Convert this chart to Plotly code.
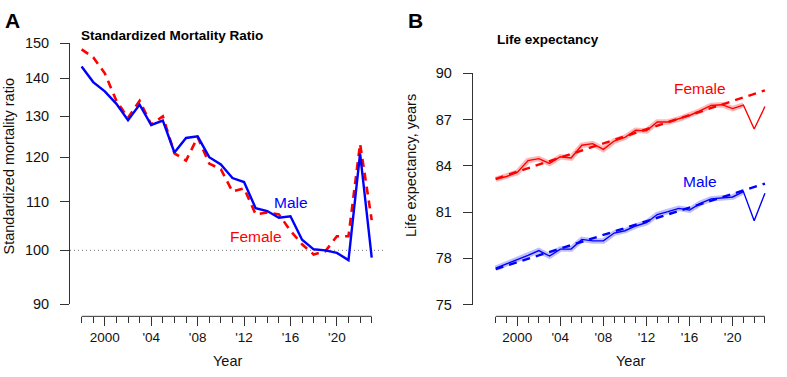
import math
import plotly.graph_objects as go

W, H = 787, 377

years = list(range(1998, 2024))

# Panel A: Standardized mortality ratio
smr_male = [143.3, 139.0, 136.5, 133.2, 129.0, 133.0, 127.8, 128.9, 121.1, 124.6, 125.0, 120.0, 118.3,
            115.2, 114.3, 108.6, 108.0, 106.6, 106.9, 102.1, 100.2, 100.0, 99.5, 98.1, 120.9, 98.6]
smr_female = [148.2, 145.9, 141.4, 134.0, 129.6, 134.0, 127.9, 130.0, 120.9, 119.2, 124.8, 118.5, 117.2,
              112.2, 112.9, 107.3, 107.7, 107.3, 103.9, 101.2, 99.2, 99.8, 102.8, 102.8, 123.2, 106.1]

# Panel B: Life expectancy (observed and expected)
le_female = [83.12, 83.31, 83.57, 84.34, 84.47, 84.16, 84.59, 84.51, 85.34, 85.44, 85.07, 85.61, 85.85,
             86.31, 86.27, 86.85, 86.85, 87.04, 87.27, 87.58, 87.92, 87.97, 87.72, 87.95, 86.39, 87.85]
le_male = [77.36, 77.63, 77.88, 78.19, 78.50, 78.15, 78.60, 78.60, 79.23, 79.13, 79.13, 79.64, 79.79,
           80.10, 80.31, 80.84, 81.03, 81.24, 81.13, 81.57, 81.86, 81.92, 81.98, 82.33, 80.44, 82.23]
exp_female = [83.16, 83.39, 83.62, 83.85, 84.08, 84.31, 84.54, 84.77, 85.00, 85.23, 85.46, 85.69, 85.92,
              86.14, 86.37, 86.60, 86.83, 87.06, 87.29, 87.52, 87.75, 87.98, 88.21, 88.44, 88.67, 88.90]
exp_male = [77.30, 77.52, 77.74, 77.97, 78.19, 78.41, 78.63, 78.85, 79.08, 79.30, 79.52, 79.74, 79.96,
            80.19, 80.41, 80.63, 80.85, 81.07, 81.30, 81.52, 81.74, 81.96, 82.18, 82.41, 82.63, 82.85]
band_years = years[:24]  # uncertainty band drawn through 2021

smr_ticks = [90, 100, 110, 120, 130, 140, 150]
le_ticks = [75, 78, 81, 84, 87, 90]
year_major = [2000, 2004, 2008, 2012, 2016, 2020]
year_labels = ["2000", "'04", "'08", "'12", "'16", "'20"]

RED = "#FF0000"
BLUE = "#0000FF"
AX = "#333333"
FONT = "Liberation Sans, Arial, Helvetica, sans-serif"


def px(x):
    return x / W


def py(y):
    return 1 - y / H


fig = go.Figure()

# ---- Panel A ----
fig.add_trace(go.Scatter(x=[1997, 2024], y=[100, 100], mode="lines", xaxis="x", yaxis="y",
                         line=dict(color="#777777", width=1, dash="1px,3px"), hoverinfo="skip"))
fig.add_trace(go.Scatter(x=years, y=smr_female, mode="lines", xaxis="x", yaxis="y",
                         line=dict(color=RED, width=2.6, dash="8px,6px")))
fig.add_trace(go.Scatter(x=years, y=smr_male, mode="lines", xaxis="x", yaxis="y",
                         line=dict(color=BLUE, width=2.4)))

# ---- Panel B ----
fig.add_trace(go.Scatter(x=band_years, y=le_female[:24], mode="lines", xaxis="x2", yaxis="y2",
                         line=dict(color="rgba(255,0,0,0.28)", width=5.5)))
fig.add_trace(go.Scatter(x=years, y=le_female, mode="lines", xaxis="x2", yaxis="y2",
                         line=dict(color=RED, width=1.4)))
fig.add_trace(go.Scatter(x=years, y=exp_female, mode="lines", xaxis="x2", yaxis="y2",
                         line=dict(color=RED, width=2.4, dash="8px,6px")))
fig.add_trace(go.Scatter(x=band_years, y=le_male[:24], mode="lines", xaxis="x2", yaxis="y2",
                         line=dict(color="rgba(0,0,255,0.25)", width=5.5)))
fig.add_trace(go.Scatter(x=years, y=le_male, mode="lines", xaxis="x2", yaxis="y2",
                         line=dict(color=BLUE, width=1.4)))
fig.add_trace(go.Scatter(x=years, y=exp_male, mode="lines", xaxis="x2", yaxis="y2",
                         line=dict(color=BLUE, width=2.4, dash="8px,6px")))

tickfont_y = dict(family=FONT, size=14.5, color="#111111")
tickfont_x = dict(family=FONT, size=13.5, color="#111111")

xcommon = dict(tickmode="array", tickvals=year_major, ticktext=year_labels, ticks="outside",
               ticklen=8.5, tickwidth=1, tickcolor=AX, showline=False, showgrid=False,
               zeroline=False, tickfont=tickfont_x, anchor="free", position=py(322),
               minor=dict(tickmode="array", tickvals=years, ticks="outside", ticklen=5.5,
                          tickwidth=1, tickcolor=AX, showgrid=False))

fig.update_layout(
    width=W, height=H, margin=dict(l=0, r=0, t=0, b=0),
    paper_bgcolor="white", plot_bgcolor="white", showlegend=False,
    font=dict(family=FONT),
    xaxis=dict(domain=[px(70), px(383.3)], range=[1997, 2024], **xcommon),
    yaxis=dict(domain=[py(309.3), py(36.7)], type="log",
               range=[math.log10(90), math.log10(150)], tickmode="array", tickvals=smr_ticks,
               ticks="outside", ticklen=9, tickwidth=1, tickcolor=AX, showline=True,
               linecolor=AX, linewidth=1, showgrid=False, zeroline=False,
               tickfont=tickfont_y, anchor="x", ticklabelstandoff=8),
    xaxis2=dict(domain=[px(472.7), px(787)], range=[1998 - (495.7 - 472.7) / 10.77,
                                                     1998 + (787 - 495.7) / 10.77], **xcommon),
    yaxis2=dict(domain=[py(309.7), py(68.3)], range=[75, 90], tickmode="array",
                tickvals=le_ticks, ticks="outside", ticklen=9, tickwidth=1, tickcolor=AX,
                showline=True, linecolor=AX, linewidth=1, showgrid=False, zeroline=False,
                tickfont=tickfont_y, anchor="x2", ticklabelstandoff=8),
)

# x-axis lines spanning only the tick range
for xr in ("x", "x2"):
    fig.add_shape(type="line", xref=xr, yref="paper", x0=years[0], x1=years[-1],
                  y0=py(322), y1=py(322), line=dict(color=AX, width=1))

ann = []
ann.append(dict(text="<b>A</b>", x=px(12.5), y=py(13), font=dict(size=21, color="black")))
ann.append(dict(text="<b>B</b>", x=px(415.3), y=py(13), font=dict(size=21, color="black")))
ann.append(dict(text="<b>Standardized Mortality Ratio</b>", x=px(79.3), y=py(28.5), xanchor="left",
                font=dict(size=13.5, color="black")))
ann.append(dict(text="<b>Life expectancy</b>", x=px(495), y=py(33), xanchor="left",
                font=dict(size=13.5, color="black")))
ann.append(dict(text="Standardized mortality ratio", x=px(8.5), y=py(165), textangle=-90,
                font=dict(size=14.5, color="#111111")))
ann.append(dict(text="Life expectancy, years", x=px(411), y=py(165), textangle=-90,
                font=dict(size=14.5, color="#111111")))
ann.append(dict(text="Year", x=px(227.5), y=py(368.5), font=dict(size=14.5, color="#111111")))
ann.append(dict(text="Year", x=px(630.8), y=py(368.5), font=dict(size=14.5, color="#111111")))
ann.append(dict(text="Male", x=px(290.7), y=py(203), font=dict(size=15.5, color=BLUE)))
ann.append(dict(text="Female", x=px(256.3), y=py(238.3), font=dict(size=15.5, color=RED)))
ann.append(dict(text="Female", x=px(700), y=py(84), font=dict(size=15.5, color=RED)))
ann.append(dict(text="Male", x=px(700), y=py(181), font=dict(size=15.5, color=BLUE)))
for a in ann:
    a.update(xref="paper", yref="paper", showarrow=False)
    a.setdefault("xanchor", "center")
    a.setdefault("yanchor", "middle")
    a["font"]["family"] = FONT
fig.update_layout(annotations=ann)

fig.write_html("out.html")
